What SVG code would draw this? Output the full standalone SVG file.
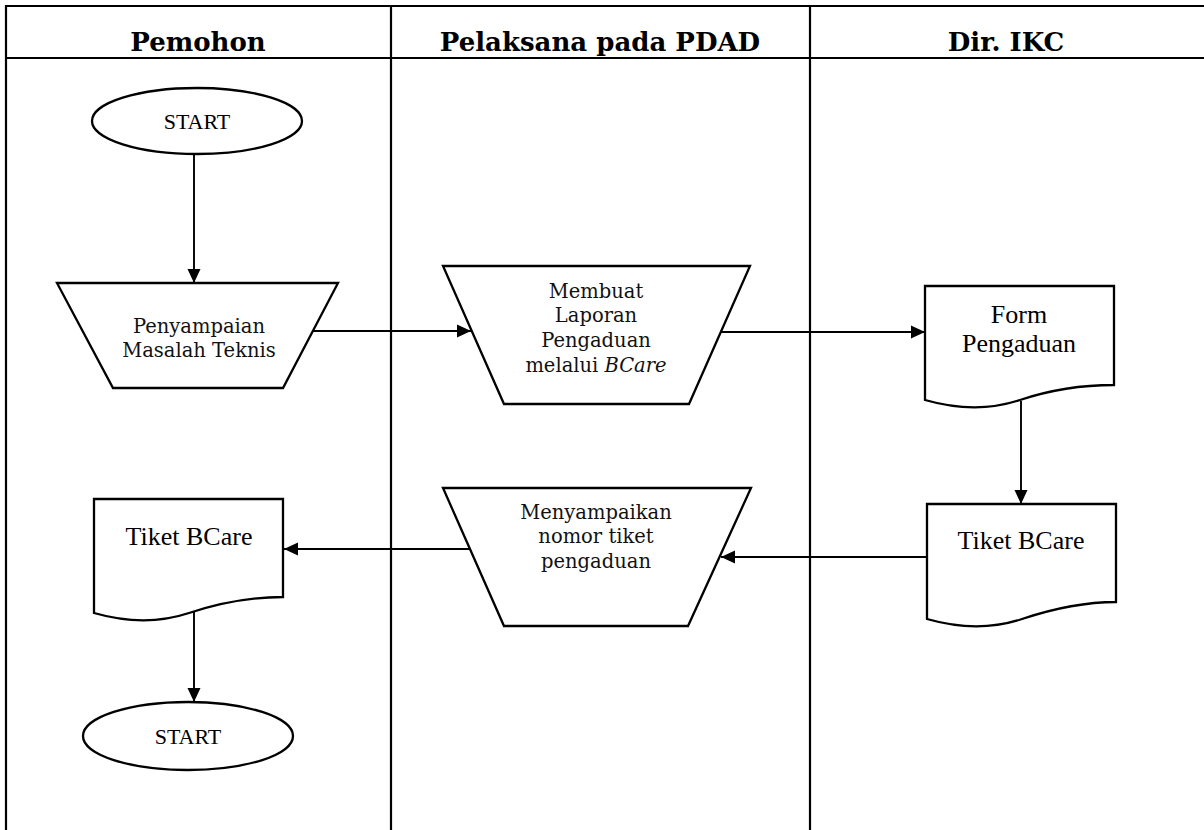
<svg xmlns="http://www.w3.org/2000/svg" width="1204" height="830" viewBox="0 0 1204 830">
<style>
.frame{stroke:#000;stroke-width:2.2;fill:none}
.shape{stroke:#000;stroke-width:2.3;fill:#fff;stroke-linejoin:miter}
.conn{stroke:#000;stroke-width:1.9;fill:none}
.hdr{font-family:"DejaVu Serif","Liberation Serif",serif;font-weight:bold;font-size:26px;fill:#000;text-anchor:middle}
.proc{font-family:"DejaVu Serif","Liberation Serif",serif;font-size:19.5px;fill:#111;text-anchor:middle}
.doc{font-family:"Liberation Serif","Times New Roman",serif;font-size:26px;fill:#000;text-anchor:middle}
.term{font-family:"Liberation Serif","Times New Roman",serif;font-size:22px;fill:#000;text-anchor:middle}
</style>
<defs>
<marker id="arr" markerUnits="userSpaceOnUse" markerWidth="14" markerHeight="14" refX="14" refY="7" orient="auto">
<path d="M0,0.5 L14,7 L0,13.5 z" fill="#000"/>
</marker>
</defs>
<rect width="1204" height="830" fill="#fff"/>
<g id="frame">
<line class="frame" x1="6" y1="6" x2="1204" y2="6"/>
<line class="frame" x1="6" y1="58" x2="1204" y2="58"/>
<line class="frame" x1="6" y1="5" x2="6" y2="830"/>
<line class="frame" x1="391" y1="6" x2="391" y2="830"/>
<line class="frame" x1="810" y1="6" x2="810" y2="830"/>
<text class="hdr" x="198" y="51">Pemohon</text>
<text class="hdr" x="600" y="51">Pelaksana pada PDAD</text>
<text class="hdr" x="1006" y="51">Dir. IKC</text>
</g>
<g id="connectors">
<line class="conn" x1="194" y1="154" x2="194" y2="283" marker-end="url(#arr)"/>
<line class="conn" x1="313" y1="331" x2="471" y2="331" marker-end="url(#arr)"/>
<line class="conn" x1="721" y1="332" x2="925" y2="332" marker-end="url(#arr)"/>
<line class="conn" x1="1021" y1="401" x2="1021" y2="504" marker-end="url(#arr)"/>
<line class="conn" x1="927" y1="557" x2="721" y2="557" marker-end="url(#arr)"/>
<line class="conn" x1="470" y1="549" x2="284" y2="549" marker-end="url(#arr)"/>
<line class="conn" x1="194" y1="612" x2="194" y2="702" marker-end="url(#arr)"/>
</g>
<g id="start1">
<ellipse class="shape" cx="197" cy="121" rx="105" ry="33"/>
<text class="term" x="197" y="129">START</text>
</g>
<g id="penyampaian">
<polygon class="shape" points="57,283 338,283 283,388 113,388"/>
<text class="proc" x="199" y="333">Penyampaian</text>
<text class="proc" x="199" y="357">Masalah Teknis</text>
</g>
<g id="membuat">
<polygon class="shape" points="443,266 750,266 689,404 504,404"/>
<text class="proc" x="596" y="298">Membuat</text>
<text class="proc" x="596" y="322">Laporan</text>
<text class="proc" x="596" y="347">Pengaduan</text>
<text class="proc" x="596" y="372">melalui <tspan font-style="italic">BCare</tspan></text>
</g>
<g id="form">
<path class="shape" d="M925,400 V286 H1114 V385 C1080,385 1050,390 1020,400 C990,410 960,410 925,400 Z"/>
<text class="doc" x="1019" y="323">Form</text>
<text class="doc" x="1019" y="352">Pengaduan</text>
</g>
<g id="tiket2">
<path class="shape" d="M927,619 V504 H1116 V602 C1082,602 1052,609 1022,619 C992,629 962,629 927,619 Z"/>
<text class="doc" x="1021" y="549">Tiket BCare</text>
</g>
<g id="menyampaikan">
<polygon class="shape" points="443,488 751,488 688,626 504,626"/>
<text class="proc" x="596" y="519">Menyampaikan</text>
<text class="proc" x="596" y="543">nomor tiket</text>
<text class="proc" x="596" y="568">pengaduan</text>
</g>
<g id="tiket1">
<path class="shape" d="M94,613 V499 H283 V597 C249,597 219,603 189,613 C159,623 129,623 94,613 Z"/>
<text class="doc" x="189" y="545">Tiket BCare</text>
</g>
<g id="start2">
<ellipse class="shape" cx="188" cy="736" rx="105" ry="34"/>
<text class="term" x="188" y="744">START</text>
</g>
</svg>
